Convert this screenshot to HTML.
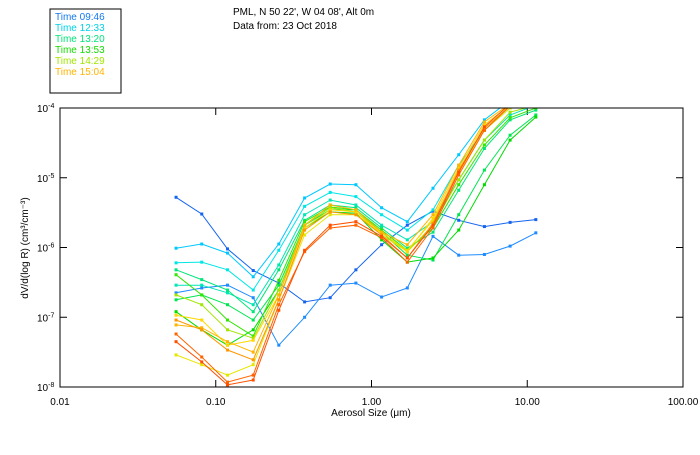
<!DOCTYPE html>
<html><head><meta charset="utf-8"><style>
body{margin:0;background:#fff;}
svg text{font-family:"Liberation Sans",sans-serif;font-size:10px;}
</style></head><body>
<svg id="chart" width="700" height="450" xmlns="http://www.w3.org/2000/svg">
<defs><clipPath id="pc"><rect x="60" y="108" width="623" height="279"/></clipPath></defs>
<rect x="50" y="9" width="71" height="84" fill="none" stroke="#000"/>
<g>
<text x="55" y="20" fill="#1478f0">Time 09:46</text>
<text x="55" y="31" fill="#00d2e6">Time 12:33</text>
<text x="55" y="42" fill="#00e678">Time 13:20</text>
<text x="55" y="53" fill="#14dc00">Time 13:53</text>
<text x="55" y="64" fill="#a0e600">Time 14:29</text>
<text x="55" y="75" fill="#ffb400">Time 15:04</text>
</g>
<text x="233" y="15">PML, N 50 22', W 04 08', Alt 0m</text>
<text x="233" y="29">Data from: 23 Oct 2018</text>
<g id="axes"></g>
<g id="series" clip-path="url(#pc)"></g>
<rect x="60" y="108" width="623" height="279" fill="none" stroke="#000"/>
<text x="371" y="416" text-anchor="middle">Aerosol Size (μm)</text>
<text transform="translate(28,248) rotate(-90)" text-anchor="middle">dV/d(log R) (cm³/cm⁻³)</text>
</svg>
<script>
const sizes=[0.0556,0.0813,0.119,0.174,0.254,0.372,0.543,0.794,1.161,1.698,2.483,3.631,5.309,7.762,11.35];
const xTickLabels=["0.01","0.10","1.00","10.00","100.00"];
const xTickValues=[0.01,0.1,1,10,100];
const yTickExponents=[-8,-7,-6,-5,-4];
const seriesColors=["#1464f0","#1e8cff","#00c8ff","#00e6e6","#00e6b4","#00e678","#00e650","#00dc00","#32e600","#a0e600","#e6e600","#ffd700","#ffb400","#ff9600","#ff6400","#ff5000"];
const log10Values=[
[-5.28,-5.52,-6.02,-6.33,-6.51,-6.78,-6.72,-6.32,-5.96,-5.68,-5.48,-5.61,-5.70,-5.64,-5.60],
[-6.65,-6.58,-6.54,-6.72,-7.40,-7.00,-6.54,-6.51,-6.71,-6.58,-5.84,-6.11,-6.10,-5.98,-5.79],
[-6.01,-5.95,-6.08,-6.42,-5.95,-5.29,-5.09,-5.10,-5.43,-5.63,-5.15,-4.67,-4.17,-3.89,-3.75],
[-6.22,-6.21,-6.32,-6.61,-6.04,-5.41,-5.21,-5.27,-5.53,-5.75,-5.46,-4.82,-4.32,-4.00,-3.89],
[-6.54,-6.54,-6.65,-6.82,-6.25,-5.53,-5.32,-5.39,-5.68,-5.89,-5.63,-5.03,-4.46,-4.10,-3.96],
[-6.32,-6.46,-6.61,-6.92,-6.32,-5.61,-5.39,-5.43,-5.72,-6.01,-5.78,-5.18,-4.58,-4.17,-4.03],
[-6.75,-6.68,-6.82,-7.04,-6.54,-5.68,-5.46,-5.46,-5.78,-6.11,-6.18,-5.53,-4.89,-4.39,-4.10],
[-6.92,-7.18,-7.40,-7.18,-6.61,-5.72,-5.49,-5.51,-5.89,-6.21,-6.15,-5.75,-5.10,-4.46,-4.13],
[-6.39,-6.68,-7.04,-7.27,-6.47,-5.63,-5.42,-5.46,-5.75,-6.04,-5.72,-5.10,-4.53,-4.14,-4.00],
[-6.68,-6.82,-7.18,-7.30,-6.61,-5.68,-5.43,-5.49,-5.78,-6.06,-5.68,-5.03,-4.46,-4.06,-3.96],
[-7.54,-7.68,-7.83,-7.68,-6.75,-5.82,-5.53,-5.53,-5.79,-6.04,-5.61,-4.92,-4.32,-4.00,-3.89],
[-6.97,-7.04,-7.40,-7.33,-6.68,-5.72,-5.46,-5.49,-5.82,-6.06,-5.58,-4.86,-4.24,-3.96,-3.89],
[-7.11,-7.15,-7.35,-7.50,-6.68,-5.68,-5.39,-5.46,-5.78,-5.96,-5.53,-4.82,-4.20,-3.94,-3.89],
[-7.04,-7.18,-7.47,-7.61,-6.75,-5.75,-5.49,-5.53,-5.82,-6.15,-5.65,-4.89,-4.29,-3.97,-3.89],
[-7.24,-7.57,-7.93,-7.83,-6.82,-6.06,-5.72,-5.68,-5.86,-6.21,-5.72,-4.96,-4.32,-3.97,-3.89],
[-7.35,-7.64,-7.97,-7.90,-6.90,-6.04,-5.68,-5.63,-5.84,-6.15,-5.68,-4.92,-4.27,-3.94,-3.89]
];
const NS="http://www.w3.org/2000/svg";
function xs(v){return 60+(Math.log10(v)+2)*155.75;}
function ys(l){return 387-(l+8)*69.75;}
function mk(t,a,p){const e=document.createElementNS(NS,t);for(const k in a)e.setAttribute(k,a[k]);p.appendChild(e);return e;}
const ax=document.getElementById('axes');
xTickValues.forEach((v,i)=>{
  const x=xs(v);
  const t1=mk('line',{x1:x,x2:x,y1:387,y2:380,stroke:'#000'},ax);
  
  
  const t2=mk('line',{x1:x,x2:x,y1:108,y2:115,stroke:'#000'},ax);
  
  
  const tl=mk('text',{x:x,y:405,'text-anchor':'middle'},ax);
  tl.textContent=xTickLabels[i];
  
  
});
yTickExponents.forEach(e=>{
  const y=ys(e);
  const t1=mk('line',{x1:60,x2:67,y1:y,y2:y,stroke:'#000'},ax);
  
  
  const t2=mk('line',{x1:683,x2:676,y1:y,y2:y,stroke:'#000'},ax);
  
  
  const tl=mk('text',{x:37,y:y+4},ax);
  tl.innerHTML='10<tspan dy="-4" font-size="7">'+e+'</tspan>';
  
  
});
const sg=document.getElementById('series');
log10Values.forEach((arr,si)=>{
  const g=mk('g',{},sg);
  
  
  const pts=arr.map((l,i)=>xs(sizes[i]).toFixed(1)+','+ys(l).toFixed(1)).join(' ');
  const pl=mk('polyline',{points:pts,fill:'none',stroke:seriesColors[si],'stroke-width':1},g);
  
  
  arr.forEach((l,i)=>{
    const r=mk('rect',{x:xs(sizes[i])-1.5,y:ys(l)-1.5,width:3,height:3,fill:seriesColors[si]},g);
    
    
  });
});
</script>
</body></html>
